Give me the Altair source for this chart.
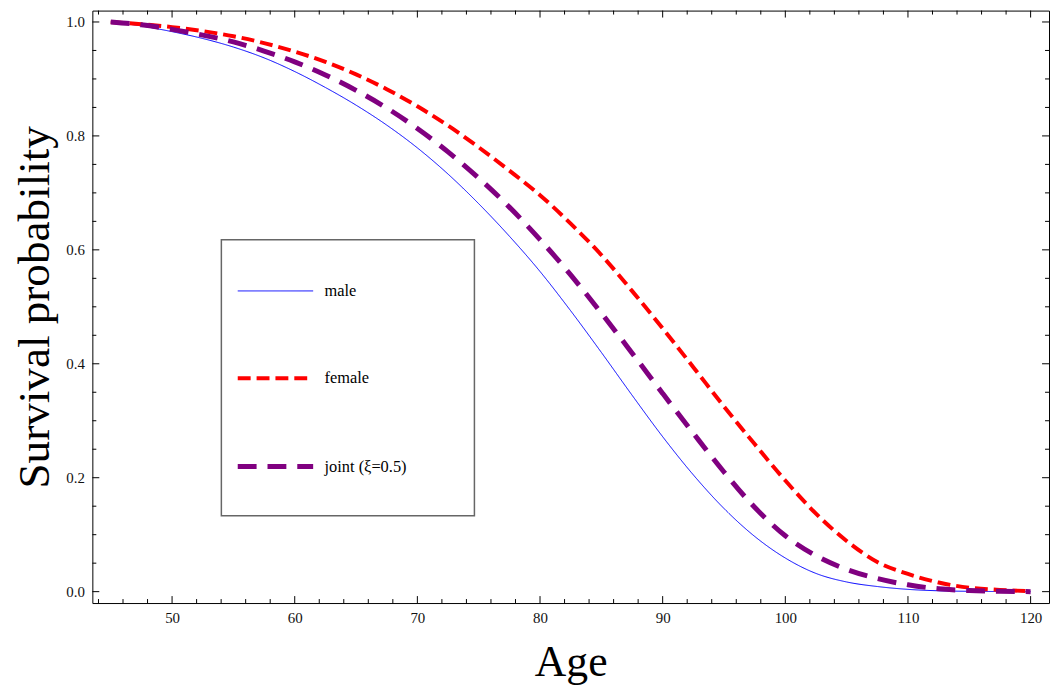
import altair as alt
import pandas as pd

# ---- data ----
ages = [45, 47.5, 50, 52.5, 55, 57.5, 60, 62.5, 65, 67.5, 70, 72.5, 75, 77.5,
        80, 82.5, 85, 87.5, 90, 92.5, 95, 97.5, 100, 102.5, 105, 107.5, 110,
        112.5, 115, 117.5, 120]
male = [1.0, 0.993, 0.983, 0.971, 0.956, 0.937, 0.913, 0.885, 0.854, 0.819,
        0.779, 0.733, 0.681, 0.624, 0.562, 0.493, 0.420, 0.345, 0.272, 0.205,
        0.146, 0.097, 0.059, 0.032, 0.017, 0.009, 0.004, 0.0015, 0.0006, 0.0002, 0.0]
female = [1.0, 0.996, 0.991, 0.984, 0.975, 0.963, 0.948, 0.930, 0.908, 0.882,
          0.852, 0.818, 0.780, 0.739, 0.696, 0.646, 0.591, 0.528, 0.462, 0.394,
          0.325, 0.259, 0.195, 0.137, 0.089, 0.052, 0.031, 0.016, 0.007, 0.003, 0.001]
joint = [1.0, 0.995, 0.987, 0.977, 0.965, 0.949, 0.930, 0.907, 0.880, 0.849,
         0.813, 0.772, 0.726, 0.675, 0.618, 0.556, 0.489, 0.419, 0.348, 0.278,
         0.210, 0.148, 0.098, 0.063, 0.039, 0.023, 0.012, 0.005, 0.002, 0.0007, 0.0]

series_names = ["male", "female", "joint (\u03be=0.5)"]
series_colors = ["#0000ff", "#ff0000", "#800080"]
series_dashes = [[1, 0], [13, 6], [19, 11]]
series_widths = [1, 4, 5]

x_major = [50, 60, 70, 80, 90, 100, 110, 120]
x_minor = [44, 46, 48, 52, 54, 56, 58, 62, 64, 66, 68, 72, 74, 76, 78, 82, 84,
           86, 88, 92, 94, 96, 98, 102, 104, 106, 108, 112, 114, 116, 118]
y_major = [0.0, 0.2, 0.4, 0.6, 0.8, 1.0]
y_minor = [0.05, 0.1, 0.15, 0.25, 0.3, 0.35, 0.45, 0.5, 0.55, 0.65, 0.7, 0.75,
           0.85, 0.9, 0.95]

x_domain = [43.5, 121.5]
y_domain = [-0.02, 1.02]

W, H = 964, 597
FONT = "Liberation Serif"

rows = []
for name, vals in zip(series_names, [male, female, joint]):
    for a, v in zip(ages, vals):
        rows.append({"age": a, "p": v, "series": name})
df = pd.DataFrame(rows)

xs = alt.Scale(domain=x_domain, nice=False, zero=False)
ys = alt.Scale(domain=y_domain, nice=False, zero=False)

leg = dict(title=None, orient="none", legendX=144, legendY=244,
           symbolType="stroke", symbolSize=5776, labelFont=FONT,
           labelFontSize=16.5, labelColor="#000", labelOffset=9,
           rowPadding=39.5, padding=0, labelLimit=300)

lines = alt.Chart(df).mark_line(interpolate="monotone", strokeCap="butt").encode(
    x=alt.X("age:Q", scale=xs, title="Age",
            axis=alt.Axis(orient="bottom", values=x_major, ticks=False, domain=False,
                          grid=False, labelPadding=8, labelFontSize=15, labelFont=FONT,
                          labelColor="#111", titleFont=FONT, titleFontSize=44,
                          titleFontWeight="normal", titleColor="#000",
                          titleBaseline="alphabetic", titleY=73)),
    y=alt.Y("p:Q", scale=ys, title="Survival probability",
            axis=alt.Axis(orient="left", values=y_major, format=".1f", ticks=False,
                          domain=False, grid=False, labelPadding=8, labelFontSize=15,
                          labelFont=FONT, labelColor="#111", titleFont=FONT,
                          titleFontSize=45.5, titleFontWeight="normal",
                          titleColor="#000", titleAngle=270,
                          titleBaseline="alphabetic", titleAlign="center",
                          titleX=-44, titleY=H / 2)),
    color=alt.Color("series:N", scale=alt.Scale(domain=series_names, range=series_colors),
                    legend=alt.Legend(**leg)),
    strokeDash=alt.StrokeDash("series:N", scale=alt.Scale(domain=series_names, range=series_dashes),
                              legend=alt.Legend(**leg)),
    strokeWidth=alt.StrokeWidth("series:N",
                                scale=alt.Scale(type="ordinal", domain=series_names, range=series_widths),
                                legend=alt.Legend(**leg)),
)

def xticks(values, length):
    d = pd.DataFrame({"v": values})
    b = alt.Chart(d).mark_rule(color="#000", strokeWidth=1).encode(
        x=alt.X("v:Q", scale=xs, axis=None), y=alt.value(H), y2=alt.value(H - length))
    t = alt.Chart(d).mark_rule(color="#000", strokeWidth=1).encode(
        x=alt.X("v:Q", scale=xs, axis=None), y=alt.value(0), y2=alt.value(length))
    return [b, t]

def yticks(values, length):
    d = pd.DataFrame({"v": values})
    l = alt.Chart(d).mark_rule(color="#000", strokeWidth=1).encode(
        y=alt.Y("v:Q", scale=ys, axis=None), x=alt.value(0), x2=alt.value(length))
    r = alt.Chart(d).mark_rule(color="#000", strokeWidth=1).encode(
        y=alt.Y("v:Q", scale=ys, axis=None), x=alt.value(W), x2=alt.value(W - length))
    return [l, r]

box = alt.Chart(alt.Data(values=[{}])).mark_rect(
    fill="white", stroke="#666", strokeWidth=1.5).encode(
    x=alt.value(130), x2=alt.value(385), y=alt.value(231), y2=alt.value(509))

layers = [lines, box] + xticks(x_major, 7) + xticks(x_minor, 4) + yticks(y_major, 7) + yticks(y_minor, 4)

chart = alt.layer(*layers).resolve_axis(x="independent", y="independent").properties(
    width=W, height=H,
    background="white",
    padding={"left": 85, "top": 0, "right": 1, "bottom": 82},
    autosize=alt.AutoSizeParams(type="none"),
).configure_view(stroke="#000", strokeWidth=1)

chart.save("out.html", embed_options={"renderer": "svg", "actions": False})
